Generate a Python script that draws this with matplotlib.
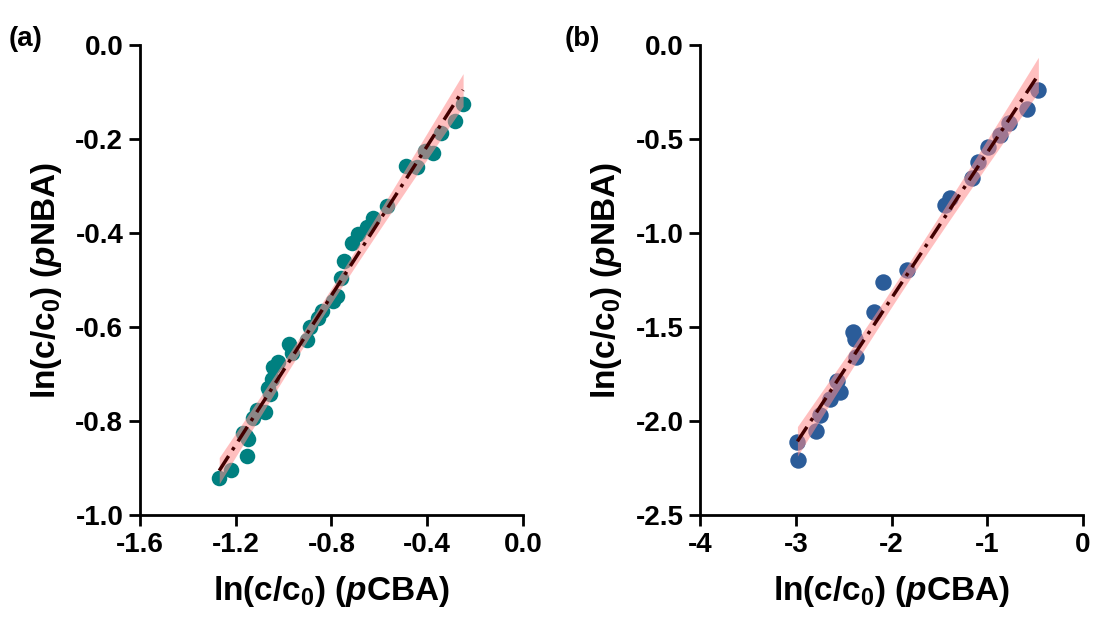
import numpy as np
import matplotlib.pyplot as plt

plt.rcParams['font.family'] = ['Liberation Sans', 'DejaVu Sans']
plt.rcParams['font.weight'] = 'bold'
plt.rcParams['axes.labelweight'] = 'bold'
plt.rcParams['axes.unicode_minus'] = False
plt.rcParams['mathtext.fontset'] = 'custom'
plt.rcParams['mathtext.rm'] = 'Liberation Sans:bold'
plt.rcParams['mathtext.it'] = 'Liberation Sans:italic:bold'
plt.rcParams['mathtext.bf'] = 'Liberation Sans:bold'

# (a) pCBA vs pNBA, series 1
xa = [-1.269, -1.220, -1.154, -1.148, -1.169, -1.157, -1.129, -1.110, -1.078,
      -1.057, -1.064, -1.050, -1.043, -1.022, -0.976, -0.966, -0.901, -0.890,
      -0.855, -0.841, -0.795, -0.778, -0.762, -0.748, -0.716, -0.688, -0.653,
      -0.625, -0.570, -0.489, -0.444, -0.410, -0.375, -0.344, -0.284, -0.250]
ya = [-0.922, -0.904, -0.874, -0.839, -0.825, -0.831, -0.793, -0.776, -0.780,
      -0.743, -0.729, -0.711, -0.686, -0.675, -0.637, -0.655, -0.628, -0.599,
      -0.580, -0.566, -0.545, -0.534, -0.496, -0.460, -0.421, -0.401, -0.386,
      -0.368, -0.342, -0.258, -0.260, -0.226, -0.230, -0.187, -0.161, -0.125]

# (b) pCBA vs pNBA, series 2
xb = [-2.984, -2.973, -2.789, -2.747, -2.642, -2.538, -2.566, -2.371, -2.381,
      -2.399, -2.183, -2.092, -1.841, -1.441, -1.389, -1.162, -1.093, -0.989,
      -0.867, -0.770, -0.588, -0.467]
yb = [-2.113, -2.206, -2.051, -1.968, -1.883, -1.846, -1.787, -1.657, -1.561,
      -1.525, -1.422, -1.262, -1.198, -0.851, -0.815, -0.709, -0.621, -0.541,
      -0.479, -0.413, -0.342, -0.239]


def fit_band(x, y, t):
    x = np.asarray(x); y = np.asarray(y)
    k, b = np.polyfit(x, y, 1)
    xs = np.linspace(x.min(), x.max(), 100)
    res = y - (k * x + b)
    s = np.sqrt(np.sum(res ** 2) / (len(x) - 2))
    se = s * np.sqrt(1 / len(x) + (xs - x.mean()) ** 2 / np.sum((x - x.mean()) ** 2))
    return xs, k * xs + b, t * se


def panel(ax, x, y, color, xlim, ylim, xticks, yticks, xfmt, yfmt, ms, t):
    ax.scatter(x, y, s=ms, color=color, zorder=2, linewidths=0)
    xs, ys, ci = fit_band(x, y, t)
    ax.fill_between(xs, ys - ci, ys + ci, color='#ff8c8c', alpha=0.55, lw=0, zorder=3)
    ax.plot(xs, ys, color='#420000', lw=2.5, ls=(0, (5, 2, 1, 2)), zorder=4)
    ax.set_xlim(xlim); ax.set_ylim(ylim)
    ax.set_xticks(xticks); ax.set_yticks(yticks)
    ax.set_xticklabels([xfmt.format(v) for v in xticks])
    ax.set_yticklabels([yfmt.format(v) for v in yticks])
    for s in ['top', 'right']:
        ax.spines[s].set_visible(False)
    for s in ['left', 'bottom']:
        ax.spines[s].set_linewidth(2)
    ax.tick_params(width=2, length=8, labelsize=20, pad=4)
    ax.set_xlabel('ln(c/c$_0$) ($p$CBA)', fontsize=24, labelpad=12)
    ax.set_ylabel('ln(c/c$_0$) ($p$NBA)', fontsize=24, labelpad=8)


fig = plt.figure(figsize=(10.94, 6.19), dpi=100)
ax1 = fig.add_axes([0.128, 0.168, 0.350, 0.759])
ax2 = fig.add_axes([0.640, 0.168, 0.350, 0.759])

panel(ax1, xa, ya, '#008080', (-1.6, 0.0), (-1.0, 0.0),
      [-1.6, -1.2, -0.8, -0.4, 0.0], [-1.0, -0.8, -0.6, -0.4, -0.2, 0.0],
      '{:.1f}', '{:.1f}', 125, 3.5)
panel(ax2, xb, yb, '#2b5c99', (-4, 0), (-2.5, 0.0),
      [-4, -3, -2, -1, 0], [-2.5, -2.0, -1.5, -1.0, -0.5, 0.0],
      '{:.0f}', '{:.1f}', 140, 3.0)

fig.text(0.008, 0.925, '(a)', fontsize=20, fontweight='bold')
fig.text(0.516, 0.925, '(b)', fontsize=20, fontweight='bold')

fig.savefig('out.png', dpi=100)
